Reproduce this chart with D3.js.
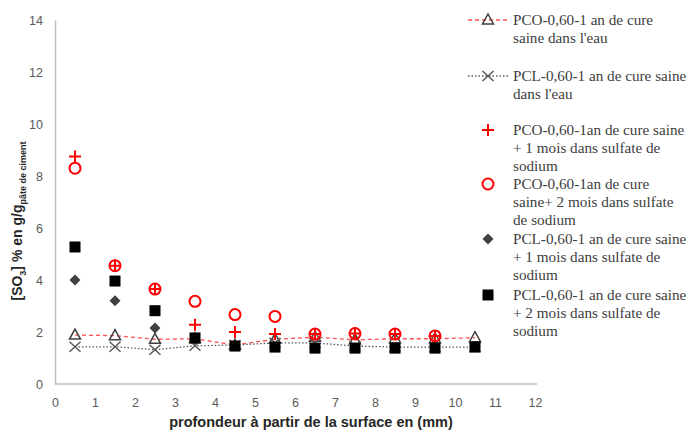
<!DOCTYPE html>
<html><head><meta charset="utf-8">
<script src="https://cdn.jsdelivr.net/npm/d3@7"></script>
<style>body{margin:0;background:#fff}svg{display:block}</style>
</head><body>
<svg id="c" width="693" height="432"></svg>
<script>
const depth = [0.5,1.5,2.5,3.5,4.5,5.5,6.5,7.5,8.5,9.5,10.5];
const pcoWater = [1.88,1.86,1.72,1.74,1.5,1.72,1.8,1.7,1.74,1.74,1.78];
const pclWater = [1.43,1.43,1.32,1.47,1.5,1.58,1.58,1.46,1.42,1.42,1.42];
const pco1m = [8.75,4.55,3.65,2.28,2.0,1.92,1.92,1.94,1.92,1.85,null];
const pco2m = [8.3,4.55,3.65,3.18,2.67,2.6,1.92,1.94,1.92,1.85,null];
const pcl1m = [4.0,3.2,2.15,1.72,1.46,1.42,1.38,1.38,1.38,1.38,1.42];
const pcl2m = [5.27,3.96,2.82,1.77,1.46,1.42,1.38,1.38,1.38,1.38,1.42];
const xTicks = [0,1,2,3,4,5,6,7,8,9,10,11,12];
const yTicks = [0,2,4,6,8,10,12,14];
const legendLines = [
  ["PCO-0,60-1 an de cure","saine dans l'eau"],
  ["PCL-0,60-1 an de cure saine","dans l'eau"],
  ["PCO-0,60-1an de cure saine","+ 1 mois dans sulfate de","sodium"],
  ["PCO-0,60-1an de cure","saine+ 2 mois dans sulfate","de sodium"],
  ["PCL-0,60-1 an de cure saine","+ 1 mois dans sulfate de","sodium"],
  ["PCL-0,60-1 an de cure saine","+ 2 mois dans sulfate de","sodium"]
];
const legendY = [[20,38],[76,94],[130,148,166],[184,202,220],[239,257,275],[295,313,331]];

const svg = d3.select("#c");
const x = d3.scaleLinear().domain([0,12]).range([55,535]);
const y = d3.scaleLinear().domain([0,14]).range([384,20]);

const xa = svg.append("g").attr("transform","translate(0,384)")
  .call(d3.axisBottom(x).tickValues(xTicks).tickSize(0).tickPadding(14).tickSizeOuter(0));
const ya = svg.append("g").attr("transform","translate(55,0)")
  .call(d3.axisLeft(y).tickValues(yTicks).tickSize(0).tickPadding(12).tickSizeOuter(0));
[xa,ya].forEach(a=>{
  a.select(".domain").attr("stroke","#bfbfbf").attr("stroke-width",1.5);
  a.selectAll("text").attr("fill","#595959").style("font-family","Liberation Sans, Arial, sans-serif").style("font-size","12.5px");
});
xa.select(".domain").attr("d","M55,0H537");

const pts = arr => depth.map((d,i)=>({x:d,v:arr[i]})).filter(p=>p.v!=null);
const line = d3.line().x(p=>x(p.x)).y(p=>y(p.v));

function triangle(g,cx,cy){ g.append("path").attr("d",`M${cx},${cy-6}L${cx+5.5},${cy+4}L${cx-5.5},${cy+4}Z`).attr("fill","none").attr("stroke","#404040").attr("stroke-width",1.5); }
function cross(g,cx,cy){ g.append("path").attr("d",`M${cx-5.5},${cy-5}L${cx+5.5},${cy+5}M${cx-5.5},${cy+5}L${cx+5.5},${cy-5}`).attr("stroke","#595959").attr("stroke-width",1.5).attr("fill","none"); }
function plus(g,cx,cy){ g.append("path").attr("d",`M${cx-6},${cy}H${cx+6}M${cx},${cy-6}V${cy+6}`).attr("stroke","#ff0000").attr("stroke-width",2).attr("fill","none"); }
function circle(g,cx,cy){ g.append("circle").attr("cx",cx).attr("cy",cy).attr("r",5.5).attr("fill","none").attr("stroke","#ff0000").attr("stroke-width",2); }
function diamond(g,cx,cy){ g.append("path").attr("d",`M${cx},${cy-5.5}L${cx+5.5},${cy}L${cx},${cy+5.5}L${cx-5.5},${cy}Z`).attr("fill","#404040"); }
function square(g,cx,cy){ g.append("rect").attr("x",cx-5.5).attr("y",cy-5.5).attr("width",11).attr("height",11).attr("fill","#000"); }

const series = [
  {data:pcoWater, m:triangle, line:{stroke:"#ff5050",dash:"4,3"}},
  {data:pclWater, m:cross, line:{stroke:"#595959",dash:"1.5,2"}},
  {data:pco1m, m:plus},
  {data:pco2m, m:circle},
  {data:pcl1m, m:diamond},
  {data:pcl2m, m:square}
];
const plot = svg.append("g");
series.forEach(s=>{
  const g = plot.append("g");
  if(s.line) g.append("path").attr("d",line(pts(s.data))).attr("fill","none")
    .attr("stroke",s.line.stroke).attr("stroke-width",1.3).attr("stroke-dasharray",s.line.dash);
  pts(s.data).forEach(p=>s.m(g,x(p.x),y(p.v)));
});

const lg = svg.append("g");
series.forEach((s,i)=>{
  const cy = legendY[i][0];
  if(s.line) lg.append("path").attr("d",`M468,${cy}H508`).attr("stroke",s.line.stroke)
    .attr("stroke-width",1.3).attr("stroke-dasharray",s.line.dash);
  s.m(lg,488,cy);
  legendLines[i].forEach((t,j)=>{
    lg.append("text").attr("x",513).attr("y",legendY[i][j]+5).text(t)
      .attr("fill","#404040").style("font-family","Liberation Serif, serif").style("font-size","15.2px");
  });
});

svg.append("text").attr("x",311).attr("y",427).attr("text-anchor","middle")
  .style("font-family","Liberation Sans, Arial, sans-serif").style("font-weight","bold").style("font-size","14.5px")
  .attr("fill","#262626").text("profondeur à partir de la surface en (mm)");
const yt = svg.append("text").attr("transform","translate(22,221) rotate(-90)").attr("text-anchor","middle")
  .style("font-family","Liberation Sans, Arial, sans-serif").style("font-weight","bold").style("font-size","14px").attr("fill","#262626");
yt.append("tspan").text("[SO");
yt.append("tspan").attr("dy",4).style("font-size","9px").text("3");
yt.append("tspan").attr("dy",-4).text("] %  en g/g");
yt.append("tspan").attr("dy",4).style("font-size","9px").text("pâte de ciment");
</script>
</body></html>
